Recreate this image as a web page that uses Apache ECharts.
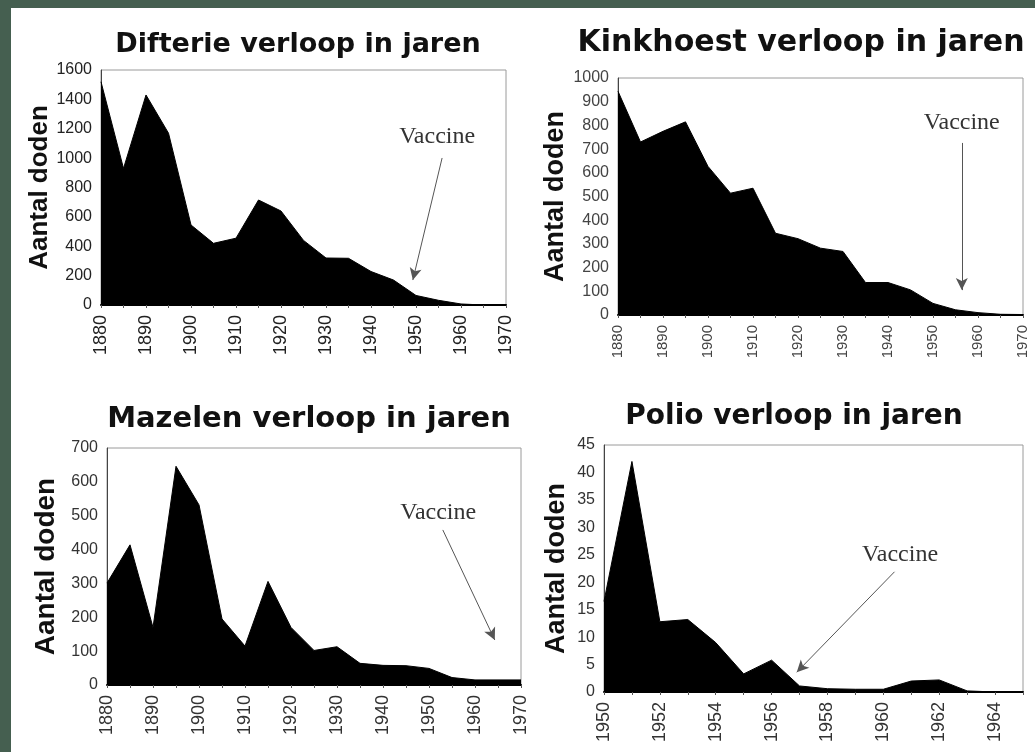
<!DOCTYPE html>
<html>
<head>
<meta charset="utf-8">
<script src="https://cdn.jsdelivr.net/npm/echarts@6/dist/echarts.min.js"></script>
<style>
  html, body { margin: 0; padding: 0; }
  body { width: 1035px; height: 752px; background: #455f50; position: relative; overflow: hidden; }
  #paper { position: absolute; left: 11px; top: 8px; right: 0; bottom: 0; background: #ffffff; }
  #chart { position: absolute; left: 0; top: 0; width: 1035px; height: 752px; }
</style>
</head>
<body>
<div id="paper"></div>
<div id="chart"></div>
<script>
// ---- data ----
const yearsLong = [1880, 1885, 1890, 1895, 1900, 1905, 1910, 1915, 1920, 1925, 1930, 1935, 1940, 1945, 1950, 1955, 1960, 1965, 1970];
const difterie  = [1520, 930, 1430, 1170, 545, 420, 455, 715, 640, 440, 320, 318, 228, 170, 65, 32, 7, 0, 0];
const kinkhoest = [944, 730, 775, 815, 627, 514, 535, 345, 322, 282, 268, 137, 137, 106, 49, 22, 10, 3, 2];
const mazelen   = [301, 414, 170, 646, 532, 195, 115, 306, 170, 102, 113, 64, 58, 57, 49, 22, 15, 15, 15];
const yearsPolio = [1950, 1951, 1952, 1953, 1954, 1955, 1956, 1957, 1958, 1959, 1960, 1961, 1962, 1963, 1964, 1965];
const polio      = [16.5, 42, 12.8, 13.2, 9, 3.3, 5.8, 1.1, 0.6, 0.5, 0.5, 2.0, 2.2, 0.2, 0, 0];

const titles = ['Difterie verloop in jaren', 'Kinkhoest verloop in jaren', 'Mazelen verloop in jaren', 'Polio verloop in jaren'];
const yName = 'Aantal doden';
const annotationText = 'Vaccine';
// vaccine annotation: label point and arrow [from, to], in data coordinates
const vaccineLabel = [[1954.7, 1144], [1956.4, 810], [1952.0, 508], [1960.6, 25]];
const vaccineArrowFrom = [[1955.8, 1001], [1956.4, 726], [1953.0, 458], [1960.4, 21.9]];
const vaccineArrowTo   = [[1949.3, 170], [1956.4, 105], [1964.3, 133], [1956.9, 3.6]];

// ---- layout ----
const panels = [
  { years: yearsLong, values: difterie, xMin: 1880, xMax: 1970, xInt: 5, yMax: 1600, yInt: 200,
    grid: { left: 101, top: 70, width: 405, height: 235 }, title: { x: 293, y: 26, size: 27 },
    nameGap: 40, nameSize: 26, xLabelSize: 18, labelColor: '#222' },
  { years: yearsLong, values: kinkhoest, xMin: 1880, xMax: 1970, xInt: 5, yMax: 1000, yInt: 100,
    grid: { left: 618, top: 78, width: 405, height: 237 }, title: { x: 796, y: 23, size: 30 },
    nameGap: 45, nameSize: 27, xLabelSize: 15, labelColor: '#444' },
  { years: yearsLong, values: mazelen, xMin: 1880, xMax: 1970, xInt: 5, yMax: 700, yInt: 100,
    grid: { left: 107, top: 448, width: 414, height: 237 }, title: { x: 304, y: 400, size: 29 },
    nameGap: 47, nameSize: 28, xLabelSize: 18, labelColor: '#333' },
  { years: yearsPolio, values: polio, xMin: 1950, xMax: 1965, xInt: 1, yMax: 45, yInt: 5,
    grid: { left: 604, top: 445, width: 419, height: 247 }, title: { x: 789, y: 398, size: 28 },
    nameGap: 34, nameSize: 27, xLabelSize: 18, labelColor: '#333' }
];

const option = {
  animation: false,
  backgroundColor: 'transparent',
  title: [], grid: [], xAxis: [], yAxis: [], series: []
};

panels.forEach((p, i) => {
  option.title.push({
    text: titles[i], left: p.title.x, top: p.title.y, textAlign: 'center',
    textStyle: { fontFamily: 'DejaVu Sans', fontWeight: 'bold', fontSize: p.title.size, color: '#111' }
  });
  option.grid.push(Object.assign({ show: true, borderColor: '#9a9a9a', borderWidth: 1, backgroundColor: 'transparent' }, p.grid));
  option.xAxis.push({
    type: 'value', gridIndex: i, min: p.xMin, max: p.xMax, interval: p.xInt,
    axisLine: { show: true, onZero: false, lineStyle: { color: '#000', width: 2 } },
    axisTick: { show: true, length: 3, lineStyle: { color: '#555' } },
    splitLine: { show: false },
    axisLabel: {
      rotate: 90, margin: 10, fontSize: p.xLabelSize, fontFamily: 'Liberation Sans', color: p.labelColor,
      formatter: v => (p.xInt === 5 ? (v % 10 === 0 ? String(v) : '') : ((v - p.xMin) % 2 === 0 ? String(v) : ''))
    }
  });
  option.yAxis.push({
    type: 'value', gridIndex: i, min: 0, max: p.yMax, interval: p.yInt,
    name: yName, nameLocation: 'middle', nameGap: p.nameGap,
    nameTextStyle: { fontFamily: 'Liberation Sans', fontWeight: 'bold', fontSize: p.nameSize, color: '#111' },
    axisLine: { show: true, lineStyle: { color: '#444', width: 1 } },
    axisTick: { show: false },
    splitLine: { show: false },
    axisLabel: { margin: 9, fontSize: 16, fontFamily: 'Liberation Sans', color: p.labelColor,
                 formatter: v => String(v) }
  });
  option.series.push({
    type: 'line', xAxisIndex: i, yAxisIndex: i,
    data: p.years.map((y, k) => [y, p.values[k]]),
    showSymbol: false, symbol: 'none',
    lineStyle: { color: '#000', width: 1 },
    areaStyle: { color: '#000', opacity: 1 },
    markLine: {
      silent: true, symbol: ['none', 'arrow'], symbolSize: [9, 12],
      lineStyle: { type: 'solid', color: '#555', width: 1 },
      label: { show: false },
      data: [[{ coord: vaccineArrowFrom[i] }, { coord: vaccineArrowTo[i] }]]
    },
    markPoint: {
      silent: true, symbol: 'rect', symbolSize: 1, itemStyle: { color: 'transparent' },
      label: { show: true, position: 'inside', formatter: annotationText,
               fontFamily: 'Liberation Serif', fontSize: 24, color: '#333' },
      data: [{ coord: vaccineLabel[i] }]
    }
  });
});

const chart = echarts.init(document.getElementById('chart'), null, { renderer: 'canvas' });
chart.setOption(option);
</script>
</body>
</html>
